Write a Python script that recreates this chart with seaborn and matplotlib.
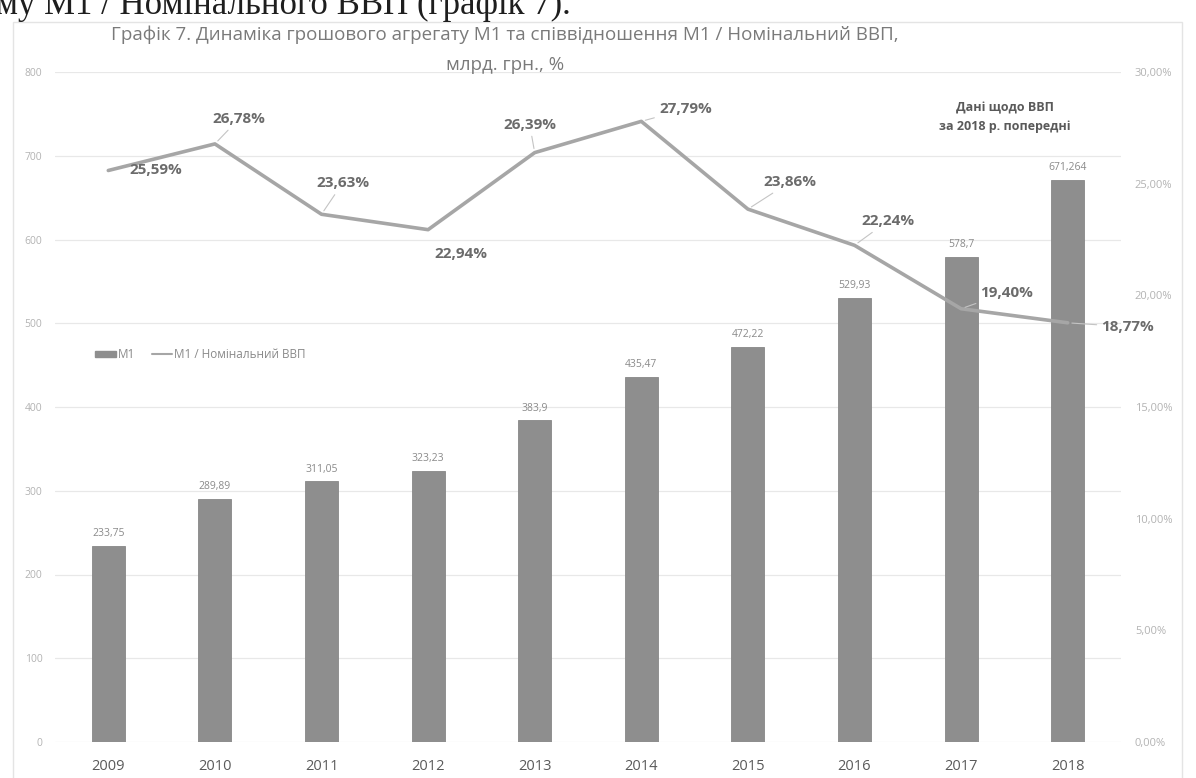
import numpy as np
import pandas as pd
import matplotlib
matplotlib.use("Agg")
import matplotlib.pyplot as plt
import seaborn as sns
from matplotlib.patches import Patch, Rectangle
from matplotlib.lines import Line2D
from matplotlib.ticker import FuncFormatter, MultipleLocator

# ---------------- data ----------------
years = ["2009", "2010", "2011", "2012", "2013", "2014", "2015", "2016", "2017", "2018"]
m1 = [233.75, 289.89, 311.05, 323.23, 383.9, 435.47, 472.22, 529.93, 578.7, 671.264]
ratio = [25.59, 26.78, 23.63, 22.94, 26.39, 27.79, 23.86, 22.24, 19.40, 18.77]

title_line1 = "Графік 7. Динаміка грошового агрегату М1 та співвідношення М1 / Номінальний ВВП,"
title_line2 = "млрд. грн., %"
fragment = "му М1 / Номінального ВВП (графік 7)."
note = "Дані щодо ВВП\nза 2018 р. попередні"
legend_labels = ["М1", "М1 / Номінальний ВВП"]

# label offsets for ratio labels (pixels, dx right, dy up) and leader flags
lab_dx = [47, 24, 21, 33, -5, 44, 42, 33, 45, 60]
lab_dy = [0, 25, 31, -24, 28, 12, 27, 24, 16, -4]
leader = [False, True, True, False, True, True, True, True, True, True]

# ---------------- style ----------------
sns.set_theme(style="white")
plt.rcParams["font.family"] = ["Open Sans", "DejaVu Sans"]

W, H = 1196, 778
fig = plt.figure(figsize=(W / 100, H / 100), dpi=100)
fig.patch.set_facecolor("white")

# faint chart border
fig.patches.append(Rectangle((13 / W, -0.01), (1182 - 13) / W, 1 - 22 / H + 0.01,
                             transform=fig.transFigure, fill=False,
                             edgecolor="#e4e4e4", lw=1.0))

ax = fig.add_axes([55 / W, 36 / H, (1121 - 55) / W, (742 - 72) / H])
df = pd.DataFrame({"year": years, "m1": m1, "ratio": ratio})

bar_color = "#8e8e8e"
line_color = "#a6a6a6"

sns.barplot(data=df, x="year", y="m1", ax=ax, color=bar_color, width=0.31,
            saturation=1, edgecolor="#878787", linewidth=0.6)
ax.set_ylim(0, 800)
ax.yaxis.set_major_locator(MultipleLocator(100))
ax.yaxis.grid(True, color="#e8e8e8", lw=0.9)
ax.set_axisbelow(True)
ax.set_xlabel("")
ax.set_ylabel("")
for s in ax.spines.values():
    s.set_visible(False)
ax.tick_params(axis="y", length=0, labelsize=7.5, labelcolor="#b3b3b3", pad=9)
ax.tick_params(axis="x", length=0, labelsize=10.5, labelcolor="#5a5a5a", pad=12)

# bar data labels
bar_txt = [str(v).replace(".", ",") for v in m1]
ax.bar_label(ax.containers[0], labels=bar_txt, padding=5, fontsize=7.5, color="#8a8a8a")

# ratio line on secondary axis
ax2 = ax.twinx()
sns.lineplot(x=np.arange(len(years)), y=ratio, ax=ax2, color=line_color, lw=2.6)
ax2.set_ylim(0, 30)
ax2.yaxis.set_major_locator(MultipleLocator(5))
ax2.yaxis.set_major_formatter(FuncFormatter(lambda v, p: f"{v:.2f}%".replace(".", ",")))
for s in ax2.spines.values():
    s.set_visible(False)
ax2.tick_params(axis="y", length=0, labelsize=8, labelcolor="#b3b3b3", pad=10)
ax2.set_ylabel("")
ax.set_xlim(-0.5, len(years) - 0.5)

# ratio labels
for i, v in enumerate(ratio):
    txt = f"{v:.2f}%".replace(".", ",")
    ap = None
    if leader[i]:
        ap = dict(arrowstyle="-", color="#c4c4c4", lw=0.8, shrinkA=1, shrinkB=3)
    ax2.annotate(txt, xy=(i, v), xytext=(lab_dx[i] * 0.72, lab_dy[i] * 0.72),
                 textcoords="offset points", ha="center", va="center",
                 fontsize=11, fontweight="bold", color="#6b6b6b",
                 arrowprops=ap, annotation_clip=False, zorder=5)

# legend
handles = [Patch(facecolor=bar_color, edgecolor=bar_color),
           Line2D([0], [0], color=line_color, lw=1.5)]
leg = ax2.legend(handles, legend_labels, loc="center left",
                 bbox_to_anchor=(0.028, 0.578), ncol=2, frameon=False,
                 fontsize=8.5, labelcolor="#8a8a8a", handlelength=1.7,
                 handleheight=0.5, handletextpad=0.2, columnspacing=1.4)

# titles and notes
fig.text(505 / W, 1 - 35 / H, title_line1, ha="center", va="center",
         fontsize=13.5, color="#7a7a7a")
fig.text(505 / W, 1 - 65 / H, title_line2, ha="center", va="center",
         fontsize=13.5, color="#7a7a7a")
fig.text(1005 / W, 1 - 117 / H, note, ha="center", va="center",
         fontsize=9, fontweight="bold", color="#5a5a5a", linespacing=1.6)
fig.text(-4 / W, 1 - 14 / H, fragment, ha="left", va="baseline",
         fontsize=25, color="#1e1e1e", family="Liberation Serif")

fig.savefig("out.png", dpi=100)
